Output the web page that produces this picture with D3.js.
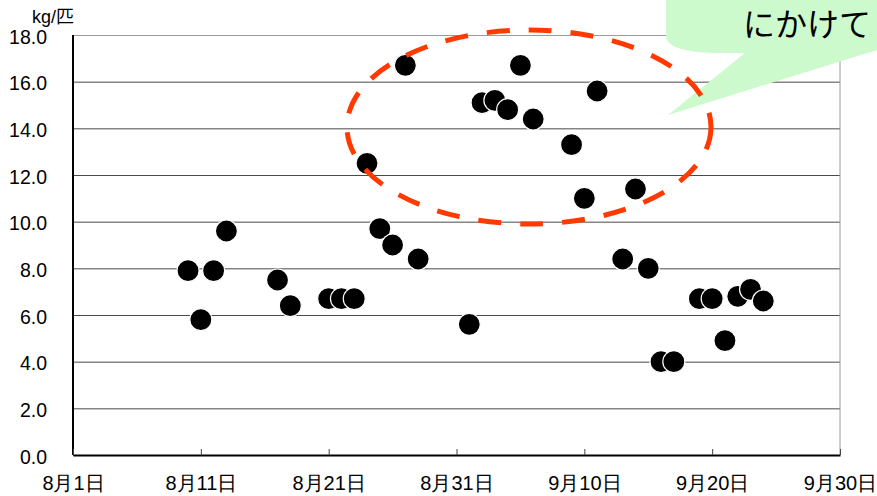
<!DOCTYPE html>
<html>
<head>
<meta charset="utf-8">
<script src="https://cdn.jsdelivr.net/npm/d3@7"></script>
<style>
  body { margin: 0; background: #fff; }
  svg { display: block; font-family: "Liberation Sans", Arial, "Noto Sans CJK JP", sans-serif; }
</style>
</head>
<body>
<div id="chart"></div>
<script>
// observation dates and weight per fish (kg/匹)
const dates = ["8/10", "8/11", "8/12", "8/13", "8/17", "8/18", "8/21", "8/22", "8/23", "8/24",
               "8/25", "8/26", "8/27", "8/28", "9/1", "9/2", "9/3", "9/4", "9/5", "9/6",
               "9/9", "9/10", "9/11", "9/13", "9/14", "9/15", "9/16", "9/17", "9/19", "9/20",
               "9/21", "9/22", "9/23", "9/24"];
const values = [7.9, 5.8, 7.9, 9.6, 7.5, 6.4, 6.7, 6.7, 6.7, 12.5,
                9.7, 9.0, 16.7, 8.4, 5.6, 15.1, 15.2, 14.8, 16.7, 14.4,
                13.3, 11.0, 15.6, 8.4, 11.4, 8.0, 4.0, 4.0, 6.7, 6.7,
                4.9, 6.8, 7.1, 6.6];
const xTicks = ["8/1", "8/11", "8/21", "8/31", "9/10", "9/20", "9/30"];
const yTicks = [0, 2, 4, 6, 8, 10, 12, 14, 16, 18];
const unitLabel = "kg/匹";
const calloutText = "にかけて";

const width = 877, height = 496;
const margin = { left: 73, right: 37, top: 35, bottom: 41 };

const parse = d3.timeParse("%m/%d");
const fmt = d3.timeFormat("%-m月%-d日");

let svg = d3.select("#chart").append("svg")
    .attr("width", width)
    .attr("height", height);

let x = d3.scaleTime()
    .domain([parse("8/1"), parse("9/30")])
    .range([margin.left, width - margin.right]);

let y = d3.scaleLinear()
    .domain([0, 18])
    .range([height - margin.bottom, margin.top]);

// gridlines + y labels
let yAxis = svg.append("g")
    .attr("transform", `translate(${margin.left},0)`)
    .call(d3.axisLeft(y)
        .tickValues(yTicks)
        .tickSize(-(width - margin.left - margin.right))
        .tickPadding(26)
        .tickFormat(d3.format(".1f")));
yAxis.select(".domain").remove();
yAxis.selectAll("line")
    .attr("stroke", d => d === 18 ? "#9a9a9a" : "#4a4a4a")
    .attr("stroke-width", 1);
yAxis.selectAll("text")
    .attr("font-size", 19.5)
    .attr("fill", "#000")
    .attr("dy", "0.42em");

// right border
svg.append("line")
    .attr("x1", x.range()[1]).attr("x2", x.range()[1])
    .attr("y1", y(18)).attr("y2", y(0))
    .attr("stroke", "#9a9a9a");

// left axis line
svg.append("line")
    .attr("x1", margin.left).attr("x2", margin.left)
    .attr("y1", y(18)).attr("y2", y(0))
    .attr("stroke", "#000").attr("stroke-width", 2);

// x axis
let xAxis = svg.append("g")
    .attr("transform", `translate(0,${y(0)})`)
    .call(d3.axisBottom(x)
        .tickValues(xTicks.map(parse))
        .tickSize(-6)
        .tickSizeOuter(0)
        .tickPadding(21)
        .tickFormat(fmt));
xAxis.select(".domain").attr("stroke", "#000").attr("stroke-width", 2.2);
xAxis.selectAll("line").attr("stroke", "#444");
xAxis.selectAll("text").attr("font-size", 20).attr("fill", "#000");

// unit label
svg.append("text")
    .attr("x", 32).attr("y", 23)
    .attr("font-size", 18)
    .text(unitLabel);

// points
svg.append("g").selectAll("circle")
    .data(dates.map((d, i) => ({ date: parse(d), value: values[i] })))
    .join("circle")
    .attr("cx", d => x(d.date))
    .attr("cy", d => y(d.value))
    .attr("r", 11)
    .attr("fill", "#000")
    .attr("stroke", "#fff")
    .attr("stroke-width", 1.2);

// speech bubble callout
svg.append("path")
    .attr("d", "M666,-10 L666,36 C666,48 690,53 718,53 L745,53 L668,115 L880,49 L880,-10 Z")
    .attr("fill", "#ccfacc");
svg.append("text")
    .attr("x", 871).attr("y", 36)
    .attr("text-anchor", "end")
    .attr("font-size", 32)
    .attr("font-family", "'Noto Sans CJK JP', sans-serif")
    .attr("fill", "#000")
    .text(calloutText);

// dashed ellipse highlight
svg.append("ellipse")
    .attr("cx", 529).attr("cy", 127)
    .attr("rx", 182).attr("ry", 97)
    .attr("fill", "none")
    .attr("stroke", "#ff3a00")
    .attr("stroke-width", 5)
    .attr("stroke-dasharray", "23 19");
</script>
</body>
</html>
